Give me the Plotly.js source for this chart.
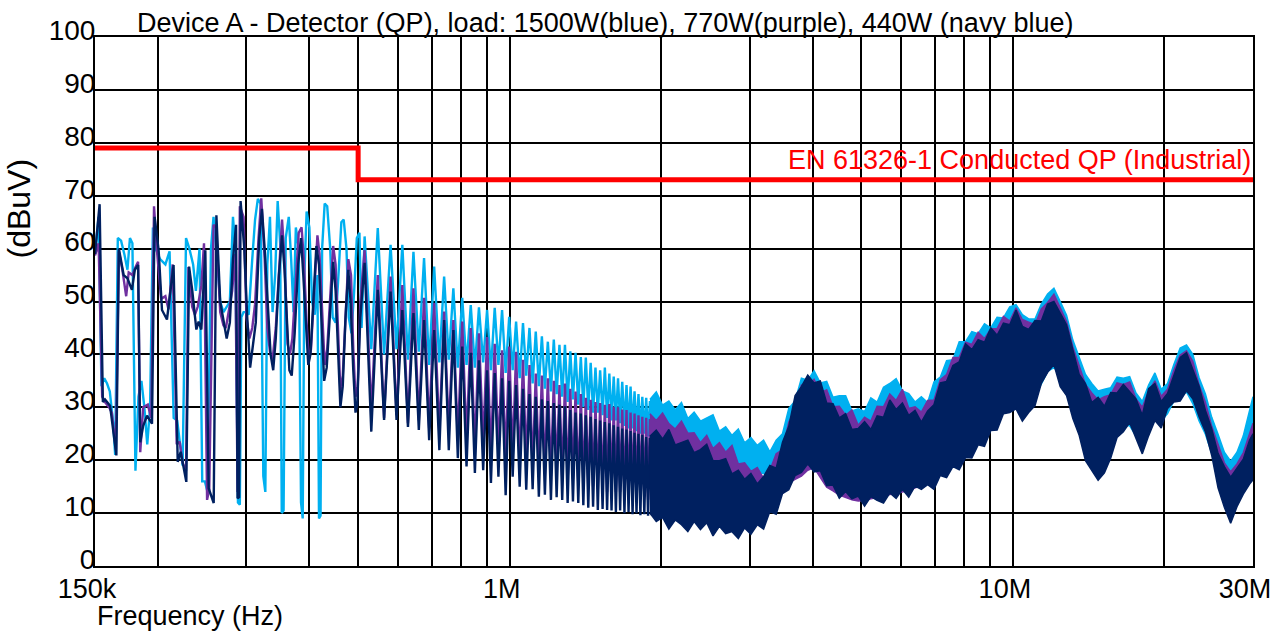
<!DOCTYPE html>
<html>
<head>
<meta charset="utf-8">
<script src="https://cdn.plot.ly/plotly-3.0.1.min.js"></script>
<style>
html,body{margin:0;padding:0;background:#fff;}
#chart{width:1285px;height:632px;}
</style>
</head>
<body>
<div id="chart"></div>
<script>
// ---------- axis / tick data ----------
const gridKHz = [150,200,300,400,500,600,700,800,900,1000,2000,3000,4000,5000,6000,7000,8000,9000,10000,20000,30000];
const gridLabels = ['150k','','','','','','','','','1M','','','','','','','','','10M','','30M'];
const yTicks = [0,10,20,30,40,50,60,70,80,90,100];

// ---------- limit line (EN 61326-1 QP, industrial) ----------
const limitKHz = [150, 500, 30000];
const limitDb = [79, 73, 73];

// ---------- low-frequency region (kHz, dBuV) ----------
const blueLowKHz = [150,152.5,154.5,156.5,158.5,160.5,163,164.5,166.5,169,171.5,174,176,178,180.5,183,185.5,188,190.5,193,195.5,198,202,207,211,215,218.5,221,224,227.5,231,235,238,242,245,248,251,255,258,262,266,270,274,278,282,285,288.5,291,293,296,300,303,308,312,316,320,324,327,330,334,338,342,346,350,352.5,355.5,359,364,368,372,376,381,385,388,391,395,400,405,410,415,418,421,424,429,434,440,445,451,457,463,468,474,479,485,491,497,503,508];
const blueLowDb = [59,66,34,35.5,34.5,33,27,21,62,61.5,59,56,62,61,18,32,35,30,23,30,64,60,58,57,59.5,28,27.5,24,19,62,60,57,52,60,16,16,14,60,66,58,50,48,49,50,66,60,12,11.6,47,48,48,47.5,58,65.5,69.4,68.5,17,14,57,66,48,55,69,61,10,10.5,62,66,58,48,64,60,12,9,55,67,64,50,47.5,55,9,9.5,60,68.5,68,60,47,46,55,65,65.5,60,47,44,52,62,63,45];

const purpleLowKHz = [150,152.5,155,157,160,162,165,167.3,170,173,175,178,180.5,182.7,184.5,187,191,194,196.5,199,203,207,210,214,218,221,224,227.5,230,234,237,240,244,247,250.5,253,258,261,266,270,273,277,281,285,288,291,296,300,304,308,312,317,321,326,330,334,338,343,348,353,357,362,366,370,375,381,386,390,395,399,403,409,415,419,424,429,434,440,446,451,456,461,466,472,478,484,489,494,499,505];
const purpleLowDb = [58.7,61,32,31,30,29,22,59.5,56,51,55.5,55,56.5,57.5,21.5,30,30.5,28,68,60,50.5,51,48.5,57,23,23.5,19.5,18,56.5,49,47.5,49,53,61,12.5,14.5,64.5,64,48,45.5,45,48.5,52,59,14,68,66,47,43,45,49.5,62,69.5,58,45,40.5,39,45,56,65.5,58,42,40,43,52,63,64,58,46,39,41,53,62.5,59,49,38,41,52,60.5,57,44,33,36,47,58,55,41,32,34,50];

const navyLowKHz = [150,153.2,155.5,157,158.5,160.7,165.4,167.3,171,174,177.6,180,182.7,184.5,187,190.3,194.7,197,200.7,203.8,208.5,212,214.9,219,222,227.8,230.7,234,238.5,241,244,248.5,252.3,258.2,261.4,266,270,274,278,282,286,288,290,292,297,301,305,309,313,318,322,326,331,335,339,343,348,353,357,361,365,369,374,380,385,389,394,398,402,408,413,418,423,428,433,440,446,451,456,461,466,472,478,483,489,494,498,505];
const navyLowDb = [59,68.4,31,31.5,31,30.3,20.9,60,55,54.4,52.2,56,56.9,23.4,26.5,28.4,26.9,66,59.7,48.4,46.6,52,56.9,19.7,21.6,15.9,56.6,52.2,44.7,46.2,44.7,59.7,14.7,11.9,66.3,50,46.5,43,46,58,64.5,12.8,13,69,60,47,37.5,42,46,62,67.5,60,48,40,37,43,55,62.5,56,45,37,36,44,57,62,55,44,38,40,50,60.5,57,45,35,37.5,49,57.5,52,40,30,34,47,56,50,37,29,30.5,47];

// ---------- harmonic oscillation region, shared frequency list (kHz) ----------
const oscKHz = [515,531,547,563,580,596,612,628,644,660,676,692,708,725,741,757,773,789,805,821,837,853,869,886,902,918,934,950,966,982,998,1014,1030,1047,1063,1079,1095,1111,1127,1143,1159,1175,1191,1208,1224,1240,1256,1272,1288,1304,1320,1336,1352,1369,1385,1401,1417,1433,1449,1465,1481,1497,1513,1530,1546,1562,1578,1594,1610,1626,1642,1658,1674,1691,1707,1723,1739,1755,1771,1787,1803,1819,1835,1852,1868,1884,1900,1916,1932,1948,1964,1980,1996,2013];
const blueOscDb = [62.3,41,63.9,40,60.7,41,60.7,39,59.4,40.5,58.2,38,56.6,38.5,54.7,39,52.5,37.5,50.7,38,49.3,37.5,48.9,38.5,48.4,37,48.8,38,48.4,36.5,47.1,37,46.2,35.5,45.9,36,45,34.5,44.3,34,43.4,33.5,42.4,33,42.8,32.5,41.8,32,41.8,31,40.6,31.5,40.3,30.5,39.5,30,39.4,29.5,38.4,29,37.5,29,37,28.5,37.5,28,36.4,27.5,35.8,27.5,35.5,27,34.8,26.5,34.2,26,33.9,26,33,25.5,32.5,25,32,25,31.8,24.5,31.2,24,30.8,24,30.8,23.5,30.2,23.5];
const purpleOscDb = [59.7,29,55,28,54.7,28.5,53.1,27,52.5,27.5,50.7,26,49.7,25,48.1,25.5,46.5,24,46.2,23.5,45,22,44,23,43.3,21,42,21.5,40.8,20,41.5,20.5,40.5,19,39,19.5,38,18,36.4,18.5,36,17.5,35.5,17,35,17.5,34.2,16.5,34.5,16,33.5,16.5,33,15.5,32.5,15.5,31.8,15,31.4,15,31,14.5,30.8,14.5,30.5,14,30.6,14.5,30.1,14,30,14,29.6,13.5,29.5,13.5,29,13.5,28.8,13,28.5,13,28.2,13,28,12.5,27.8,12.5,27.5,12.5,27,12,26.8,12];
const navyOscDb = [57.3,25.4,52.2,27.6,51.9,27.6,48.4,26.3,47.8,25.7,46.5,23.8,44.6,21.9,46.5,21.9,44.6,20.4,41.5,18.8,40.3,17.6,38.9,18.1,37,15.7,36.5,16.9,35.5,13.4,35,16.9,34.2,15,33.5,14.4,32.5,14.5,32,13.1,31.5,13.5,31.2,12.5,30.8,13,30.5,12.5,30.2,11.9,29.5,12.2,29,11.9,28.8,11.5,28.5,11,28.2,11.2,27.8,10.6,27.5,10.8,27.2,10.6,27,10.5,26.6,10.2,26.3,10.5,26,10,25.8,10.2,25.5,9.8,25.2,10,25,9.6,24.8,9.8,24.4,9.5,24.2,9.6,24,9.2,23.8,9.4,23.5,9];

// ---------- dense region: envelope of the sweep (kHz, upper / lower dBuV) ----------
const bandKHz = [1900,1956,2013,2072,2133,2195,2260,2326,2394,2464,2536,2611,2687,2766,2847,2930,3016,3105,3196,3289,3386,3485,3587,3692,3800,3912,4026,4144,4266,4391,4519,4652,4788,4928,5073,5221,5374,5532,5694,5861,6032,6209,6391,6578,6771,6969,7173,7384,7600,7823,8052,8288,8531,8781,9038,9303,9576,9856,10145,10443,10749,11064,11388,11722,12065,12419,12783,13157,13543,13940,14348,14769,15201,15647,16105,16577,17063,17563,18078,18607,19153,19714,20291,20886,21498,22128,22776,23444,24131,24838,25565,26315,27086,27879,28696,29537,30000];
const blueHi = [31.5,32.9,30.4,31.2,29.5,30.9,27.9,29.1,27.4,28,28.6,25.5,26.3,24.7,25.9,23.3,24.3,22.8,23.8,21.6,23.8,25,29.8,31.2,35.5,35.1,36.9,34.6,34.9,31.9,32.2,32.2,29.3,29.7,29.2,31.8,31,33.8,34.5,35.4,33.1,32.6,31,32,30.9,34.8,35.7,38.8,39,42.4,42.4,44.3,43.9,45.8,45,47,46.9,49,49.4,47.5,46.7,46.7,49.5,51.4,52.5,50,47.4,42.7,39.5,36.2,34.5,33.1,33.4,33.7,35.7,35.5,35.8,32.7,31.1,34.2,36.5,33.4,34.5,38.1,41.2,41.8,40,35.6,32.5,28.1,24.9,21.5,19.8,21.5,24.6,29.3,32];
const blueLo = [24,23.6,23.1,22.7,22.3,22,21.7,21.4,21,20.6,20.3,19.8,19.4,19,18.6,18.3,18,17.7,17.5,17.5,18,18.8,19.9,20.4,21,21.6,21.8,20.9,19.9,18.9,17.9,17.4,16.9,16.6,16.5,16.5,16.5,16.8,17,17.3,17.5,17.8,18.2,18.7,19.3,20.2,21.1,22,23.2,24.5,25.8,26.8,27.8,28.8,29.8,30.3,30.7,31.1,31.7,31,30.8,32.4,34.4,36.8,37.5,36.3,33.8,30.3,25.9,22.4,19.1,19.6,20,22.8,25.4,26.6,26.5,24.6,23.2,26.4,28,27.4,28.8,31.2,32.3,32.9,30.7,27.4,24.9,21.3,17.3,14,12.2,13.5,15.6,18.5,20];
const purpleHi = [28.8,27.5,28.9,26.9,25.9,27.4,25.1,25.2,23.3,24.7,22.2,23.3,21.5,22.8,19.3,19.5,17.9,18.6,16.6,18.1,21.2,22,27.2,29.4,34.2,33.9,35.3,32.7,33.3,30.1,30.2,28.5,29.5,26.6,28.1,27.4,30.2,30.1,32.5,31.3,33.4,29.8,30.1,29.1,31.3,31.4,35.2,36.2,39.4,39.4,42.3,41.9,44.2,43,44.8,44.9,47.2,46.3,48.8,46.6,46.1,45.6,48.6,49.8,51.4,48.8,46.2,41.4,38,34.3,32.7,31.4,32,32.4,34.6,34.3,34.8,31.6,30,33,35,32.1,33.4,37,39.9,40.7,38.7,34.2,30.9,26.4,23,19.5,17.8,19.3,21.4,25.1,27];
const purpleLo = [14,13.7,13.4,13.1,12.8,12.5,12.2,11.9,11.5,11.1,10.9,10.6,10.3,10,9.8,9.6,9.5,9.8,10.5,11.8,12.5,13.7,15.7,16.4,17,18.1,18.6,16.7,14.9,14.2,13.4,12.9,12.5,12.3,12.4,12.7,13,13.2,13.5,13.8,14,14.3,14.7,15.2,15.8,16.8,18.4,19.9,21.1,22.5,23.7,25.1,26.6,27.4,27.9,28.3,29.8,30,30.7,29.4,30,32.7,35.5,38.4,39.1,36.1,33.2,29.9,25.7,22.1,19,18.8,18.6,22.2,25.3,27.4,28.1,26.4,22.2,26.6,28.5,28.3,30.8,32,33,34.1,32.6,29.8,26.4,21.9,16.4,12.1,9.6,12.2,14.6,16.5,17.3];
const navyHi = [24.5,25.7,24,25.8,22.9,23.3,23.8,21.4,22,23,19.9,19.9,20.3,17.4,18.1,16.4,17.5,15.5,16.9,19,18.5,23.4,26.4,32.2,33.9,36.1,34.6,35,30.8,30.7,28,28.8,25.8,26,27.3,25.8,28.4,28.1,31.4,29.6,30.8,28.5,29.4,27.2,29.3,30.5,34.6,34.9,37.9,38.6,42,40.9,42.8,42.3,45,43.6,45.9,45.6,48.4,45.3,44.7,46.4,46.3,49.5,50,47.8,45.6,40.9,36.2,34.5,30.9,31.9,30.2,32.8,32.7,34.3,32.9,31.6,28.5,33.5,34.5,31.1,32.6,36,39.4,40.3,37.3,34,29.4,25.9,21.3,18.8,16.8,18.4,20.2,23.8,25];
const navyLo = [10,8.4,9.2,7,8.7,7.8,6.5,8.4,6.9,8.2,5.7,7.5,6.1,6.5,5.2,7.2,6,7.8,7,10.3,9.8,13.7,14.4,17.1,17.7,19.3,17.8,18,15.2,15.3,12.8,14.1,12.7,13.2,11.3,13.1,12.4,11.9,13.8,12.8,14.5,13,15.1,14.5,15.4,14.5,17.1,16.7,18.8,18.2,20.5,20.4,22.9,22.6,25.6,25.7,28.8,29,29.7,27.4,29,30.3,34.5,36.6,38.1,33.9,32.2,27.9,24.7,19.9,18,16.2,17.6,20.4,24.3,25.4,27.1,24,21.2,24.6,27.5,26.1,29.8,31,31.2,33.1,31.6,28.2,25.4,20.9,14.8,11.1,8.1,11.2,13.6,15.5,16.3];

// ---------- styling ----------
const BLUE = '#00B0F0', PURPLE = '#7030A0', NAVY = '#002060', RED = '#FF0000';
const FONT = '"Liberation Sans", Arial, sans-serif';

function pair(a, b) { const n = Math.min(a.length, b.length); return [a.slice(0, n), b.slice(0, n)]; }

function sweepTrace(lowK, lowDb, oscDb, color) {
  const [lk, ld] = pair(lowK, lowDb);
  const [ok, od] = pair(oscKHz, oscDb);
  return {type:'scatter', mode:'lines', x: lk.concat(ok), y: ld.concat(od),
          line:{color:color, width:2.4}, hoverinfo:'skip', showlegend:false};
}
function bandTrace(hi, lo, color) {
  const n = Math.min(bandKHz.length, hi.length, lo.length);
  const k = bandKHz.slice(0, n);
  return {type:'scatter', mode:'lines', fill:'toself', fillcolor:color,
          x: k.concat(k.slice().reverse()),
          y: hi.slice(0, n).concat(lo.slice(0, n).reverse()),
          line:{color:color, width:1.5}, hoverinfo:'skip', showlegend:false};
}

const traces = [
  sweepTrace(blueLowKHz, blueLowDb, blueOscDb, BLUE),
  bandTrace(blueHi, blueLo, BLUE),
  sweepTrace(purpleLowKHz, purpleLowDb, purpleOscDb, PURPLE),
  bandTrace(purpleHi, purpleLo, PURPLE),
  sweepTrace(navyLowKHz, navyLowDb, navyOscDb, NAVY),
  bandTrace(navyHi, navyLo, NAVY),
  {type:'scatter', mode:'lines', x: limitKHz, y: limitDb, line:{color:RED, width:5, shape:'hv'},
   hoverinfo:'skip', showlegend:false}
];

const layout = {
  width: 1285, height: 632,
  margin: {l: 95, r: 32, t: 37, b: 66, pad: 0},
  paper_bgcolor: '#ffffff', plot_bgcolor: '#ffffff',
  showlegend: false,
  font: {family: FONT, color: '#000', size: 27},
  title: {text: 'Device A - Detector (QP), load: 1500W(blue), 770W(purple), 440W (navy blue)',
          x: 0.471, xanchor: 'center', y: 0.965, yanchor: 'middle',
          font: {family: FONT, size: 27, color: '#000'}},
  xaxis: {type: 'log', range: [Math.log10(150), Math.log10(30000)],
          tickmode: 'array', tickvals: gridKHz, ticktext: gridLabels,
          showgrid: true, gridcolor: '#000', gridwidth: 2,
          showline: true, linecolor: '#000', linewidth: 2, mirror: true,
          ticks: '', zeroline: false, tickfont: {family: FONT, size: 27, color: '#000'},
          ticklabelshift: -8, ticklabelstandoff: -2, fixedrange: true},
  yaxis: {range: [0, 100], tickmode: 'array', tickvals: yTicks,
          showgrid: true, gridcolor: '#000', gridwidth: 2,
          showline: true, linecolor: '#000', linewidth: 2, mirror: true,
          ticks: '', zeroline: false, tickfont: {family: FONT, size: 28, color: '#000'},
          ticklabelstandoff: -8, ticklabelshift: -7, fixedrange: true},
  annotations: [
    {text: '(dBuV)', xref: 'paper', yref: 'paper', x: -0.066, y: 0.675, xanchor: 'center', yanchor: 'middle',
     textangle: -90, showarrow: false, font: {family: FONT, size: 32, color: '#000'}},
    {text: 'Frequency (Hz)', xref: 'paper', yref: 'paper', x: 0, y: -0.095, xanchor: 'left', yanchor: 'middle',
     showarrow: false, font: {family: FONT, size: 27, color: '#000'}},
    {text: 'EN 61326-1 Conducted QP (Industrial)', xref: 'paper', yref: 'y', x: 1, y: 76.7,
     xanchor: 'right', yanchor: 'middle', showarrow: false, font: {family: FONT, size: 27, color: RED}}
  ]
};

Plotly.newPlot('chart', traces, layout, {displayModeBar: false, staticPlot: true});
</script>
</body>
</html>
